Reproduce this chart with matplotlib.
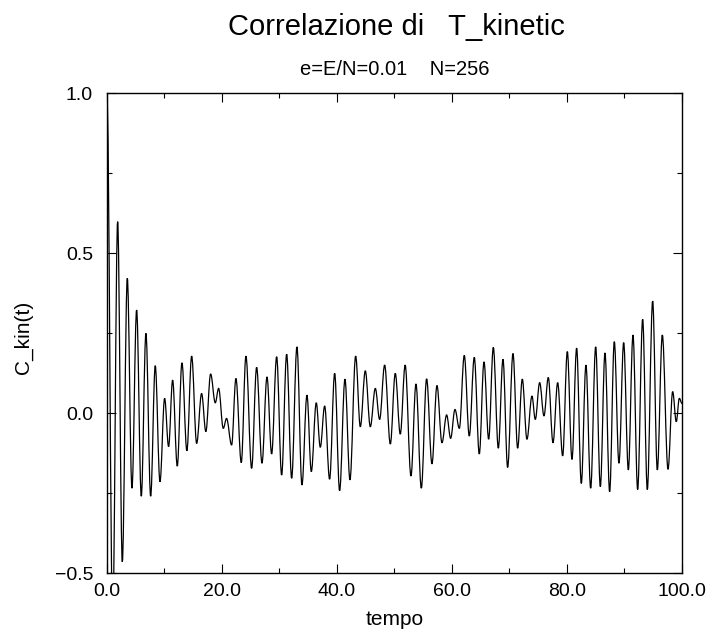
import matplotlib
matplotlib.use("Agg")
import matplotlib.pyplot as plt
from matplotlib.path import Path
from matplotlib.patches import PathPatch
from matplotlib.ticker import MultipleLocator, FuncFormatter

plt.rcParams['font.family'] = ['Liberation Sans', 'DejaVu Sans']

# Extrema of C_kin(t) (time, value), alternating max/min
ext_t = [0.0, 1.0, 1.86, 2.67, 3.54, 4.35, 5.16, 5.97, 6.78, 7.6, 8.4, 9.22,
         10.03, 10.72, 11.42, 12.23, 13.04, 13.9, 14.73, 15.6, 16.46, 17.2,
         18.03, 18.84, 19.42, 20.23, 20.8, 21.68, 22.43, 23.36, 24.17, 25.16,
         26.03, 26.96, 27.83, 28.64, 29.51, 30.38, 31.25, 32.12, 33.04, 33.91,
         34.78, 35.54, 36.4, 37.1, 37.86, 38.72, 39.6, 40.46, 41.39, 42.26,
         43.25, 44.06, 44.93, 45.8, 46.67, 47.42, 48.29, 49.28, 50.14, 51.01,
         51.86, 52.87, 53.74, 54.67, 55.59, 56.52, 57.39, 58.26, 59.07, 59.77,
         60.52, 61.28, 62.14, 63.01, 63.88, 64.75, 65.57, 66.38, 67.19, 68.06,
         68.87, 69.68, 70.61, 71.42, 72.23, 73.04, 73.91, 74.49, 75.25, 76.0,
         76.75, 77.57, 78.38, 79.25, 80.06, 80.87, 81.68, 82.49, 83.3, 84.12,
         84.99, 85.8, 86.61, 87.42, 88.23, 89.04, 89.86, 90.67, 91.48, 92.29,
         93.16, 93.97, 94.9, 95.71, 96.58, 97.57, 98.38, 99.01, 99.54, 100.0]
ext_v = [1.0, -0.65, 0.598, -0.465, 0.421, -0.235, 0.322, -0.26, 0.249, -0.26,
         0.148, -0.215, 0.046, -0.105, 0.103, -0.166, 0.157, -0.118, 0.178,
         -0.095, 0.061, -0.058, 0.122, 0.032, 0.077, -0.048, -0.017, -0.1,
         0.108, -0.155, 0.178, -0.173, 0.143, -0.157, 0.113, -0.128, 0.176,
         -0.194, 0.184, -0.204, 0.207, -0.225, 0.056, -0.183, 0.032, -0.107,
         0.022, -0.207, 0.124, -0.243, 0.106, -0.209, 0.178, -0.043, 0.132,
         -0.043, 0.077, -0.02, 0.15, -0.097, 0.124, -0.066, 0.15, -0.197,
         0.091, -0.235, 0.107, -0.159, 0.086, -0.093, -0.006, -0.079, 0.011,
         -0.048, 0.18, -0.072, 0.174, -0.128, 0.16, -0.082, 0.205, -0.11,
         0.168, -0.17, 0.186, -0.11, 0.106, -0.082, 0.053, -0.02, 0.095,
         -0.009, 0.111, -0.093, 0.095, -0.134, 0.192, -0.145, 0.203, -0.22,
         0.15, -0.235, 0.207, -0.23, 0.188, -0.246, 0.223, -0.157, 0.22,
         -0.178, 0.244, -0.239, 0.293, -0.239, 0.35, -0.178, 0.244, -0.176,
         0.067, -0.027, 0.046, 0.03]

x_ticks = [0, 20, 40, 60, 80, 100]
y_ticks = [-0.5, 0.0, 0.5, 1.0]

fig = plt.figure(figsize=(7.13, 6.35), dpi=100)
ax = fig.add_axes([0.150, 0.0976, 0.8065, 0.7559])

# smooth curve through the extrema using Bezier segments with flat tangents
verts = [(ext_t[0], ext_v[0])]
codes = [Path.MOVETO]
k = 0.363
for i in range(1, len(ext_t)):
    t0, v0 = ext_t[i - 1], ext_v[i - 1]
    t1, v1 = ext_t[i], ext_v[i]
    dt = t1 - t0
    verts += [(t0 + k * dt, v0), (t1 - k * dt, v1), (t1, v1)]
    codes += [Path.CURVE4] * 3
ax.add_patch(PathPatch(Path(verts, codes), facecolor='none', edgecolor='black',
                       linewidth=0.9, clip_on=True))


def fmt(v, pos):
    s = '%.1f' % v
    if s == '-0.0':
        s = '0.0'
    return s.replace('-', '\u2212')


ax.set_xlim(0, 100)
ax.set_ylim(-0.5, 1.0)
ax.set_xticks(x_ticks)
ax.set_yticks(y_ticks)
ax.xaxis.set_minor_locator(MultipleLocator(10))
ax.yaxis.set_minor_locator(MultipleLocator(0.25))
ax.xaxis.set_major_formatter(FuncFormatter(fmt))
ax.yaxis.set_major_formatter(FuncFormatter(fmt))
ax.tick_params(which='both', direction='in', top=True, right=True,
               labelsize=14, width=0.8)
ax.tick_params(axis='x', which='major', pad=7)
ax.tick_params(axis='y', which='major', pad=10)
ax.tick_params(which='major', length=6.5)
ax.tick_params(which='minor', length=3.5)
for s in ax.spines.values():
    s.set_linewidth(1.0)

ax.set_xlabel('tempo', fontsize=15)
ax.xaxis.set_label_coords(0.5, -0.1083)
ax.xaxis.label.set_va('baseline')
ax.set_ylabel('C_kin(t)', fontsize=15)
ax.yaxis.set_label_coords(-0.146, 0.4917)
ax.yaxis.label.set_va('center')

fig.text(0.556, 0.9449, 'Correlazione di   T_kinetic', ha='center',
         va='baseline', fontsize=21)
fig.text(0.553, 0.8819, 'e=E/N=0.01    N=256', ha='center', va='baseline',
         fontsize=14.5)

fig.savefig('out.png', dpi=100)
